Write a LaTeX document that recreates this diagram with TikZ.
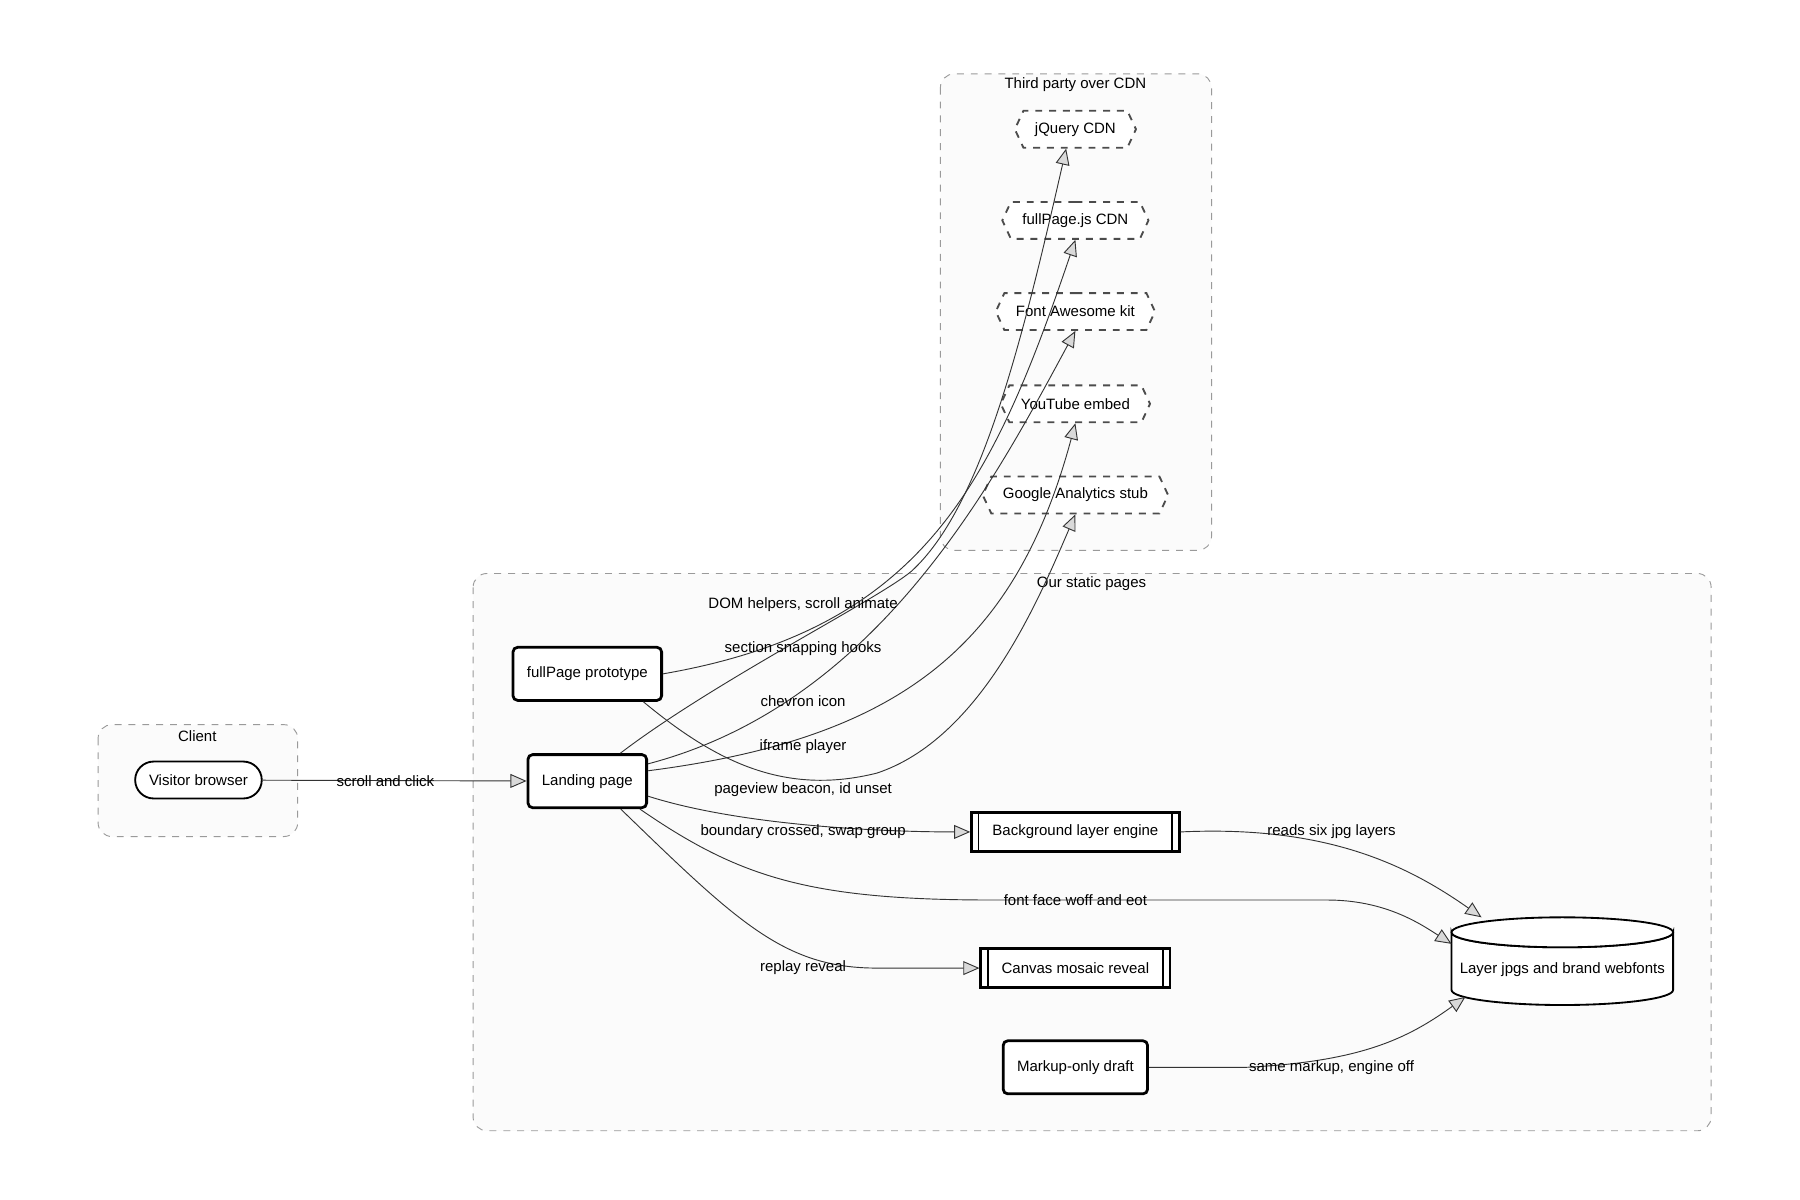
\documentclass[tikz,border=0pt]{standalone}
\usepackage{fontspec}
\setmainfont{Liberation Sans}
\usetikzlibrary{arrows.meta,shapes.geometric,shapes.symbols}
\definecolor{groupfill}{HTML}{FBFBFB}
\definecolor{groupline}{HTML}{9A9A9A}
\tikzset{
  grp/.style={draw=groupline,dashed,fill=groupfill,rounded corners=6pt},
  page/.style={draw,very thick,rounded corners=2pt,fill=white,minimum height=23pt,inner xsep=6pt},
  cdn/.style={draw=black!70,dashed,thick,signal,signal to=east and west,signal pointer angle=130,
    fill=white,minimum height=16pt,inner xsep=5pt},
  engine/.style={draw,very thick,fill=white,minimum height=17pt,inner xsep=9pt,
    path picture={\draw[thick] ([xshift=3pt]path picture bounding box.north west) -- ([xshift=3pt]path picture bounding box.south west);
      \draw[thick] ([xshift=-3pt]path picture bounding box.north east) -- ([xshift=-3pt]path picture bounding box.south east);}},
  flow/.style={draw=black!80,-{Triangle[open,length=7pt,width=6pt,fill=black!15]}},
  lbl/.style={inner sep=1pt}
}
\begin{document}
\begin{tikzpicture}[x=0.5pt,y=-0.5pt,font=\fontsize{6.5}{8}\selectfont]
\useasboundingbox (0,0) rectangle (1560,1040);
% groups
\draw[grp] (85,628) rectangle (258,725);
\node (tclient) at (171,638) {Client};
\draw[grp] (410,497) rectangle (1483,980);
\node (tstatic) at (946,506) {Our static pages};
\draw[grp] (815,64) rectangle (1050,477);
\node (tcdn) at (932,73) {Third party over CDN};

% nodes
\node[draw,thick,rounded corners=8pt,fill=white,minimum height=16pt,inner xsep=6pt] (visitor) at (172,676) {Visitor browser};
\node[cdn] (jq) at (932,112) {jQuery CDN};
\node[cdn] (fpcdn) at (932,191) {fullPage.js CDN};
\node[cdn] (fa) at (932,270) {Font Awesome kit};
\node[cdn] (yt) at (932,350) {YouTube embed};
\node[cdn] (ga) at (932,429) {Google Analytics stub};
\node[page] (proto) at (509,584) {fullPage prototype};
\node[page] (landing) at (509,677) {Landing page};
\node[engine] (bg) at (932,721) {Background layer engine};
\node[engine] (mosaic) at (932,839) {Canvas mosaic reveal};
\node[page] (draft) at (932,925) {Markup-only draft};
% store drawn as a can
\draw[thick,fill=white] (1258,808) arc[start angle=180,end angle=360,x radius=96,y radius=-13]
  -- (1450,858) arc[start angle=0,end angle=-180,x radius=96,y radius=-13] -- cycle;
\draw[thick,fill=white] (1354,808) ellipse[x radius=96,y radius=-13];
\node (assets) at (1354,840) {Layer jpgs and brand webfonts};

% connectors
\draw[flow] (visitor) -- (landing);
\draw[flow] (landing.north east) ++(-24,0) .. controls (620,590) and (760,520) .. (790,495) .. controls (850,440) and (885,300) .. ([xshift=-4pt]jq.south);
\draw[flow] (proto.east) .. controls (800,545) and (860,420) .. (fpcdn.south);
\draw[flow] (landing.east) ++(0,-15) .. controls (760,610) and (860,420) .. (fa.south);
\draw[flow] (landing.east) ++(0,-9) .. controls (780,640) and (880,560) .. (yt.south);
\draw[flow] (proto.south east) ++(-17,0) .. controls (620,660) and (680,690) .. (760,670) .. controls (850,640) and (900,520) .. (ga.south);
\draw[flow] (landing.east) ++(0,13) .. controls (640,715) and (760,721) .. (bg.west);
\draw[flow] (landing.south east) ++(-7,0) .. controls (640,760) and (700,780) .. (860,780) -- (1150,780) .. controls (1200,780) and (1230,800) .. (1258,818);
\draw[flow] (landing.south) ++(29,0) .. controls (640,800) and (680,839) .. (760,839) -- (mosaic.west);
\draw[flow] (bg.east) .. controls (1150,715) and (1220,750) .. (1284,795);
\draw[flow] (draft.east) -- (1080,925) .. controls (1180,920) and (1220,900) .. (1270,864);

% labels
\node[lbl] (lscroll) at (334,677) {scroll and click};
\node[lbl] (ldom) at (696,524) {DOM helpers, scroll animate};
\node[lbl] (lsnap) at (696,562) {section snapping hooks};
\node[lbl] (licon) at (696,608) {chevron icon};
\node[lbl] (lplayer) at (696,647) {iframe player};
\node[lbl] (lbeacon) at (696,684) {pageview beacon, id unset};
\node[lbl] (lswap) at (696,721) {boundary crossed, swap group};
\node[lbl] (lfont) at (932,780) {font face woff and eot};
\node[lbl] (lreplay) at (696,839) {replay reveal};
\node[lbl] (lreads) at (1154,721) {reads six jpg layers};
\node[lbl] (lsame) at (1154,925) {same markup, engine off};
\end{tikzpicture}
\end{document}
